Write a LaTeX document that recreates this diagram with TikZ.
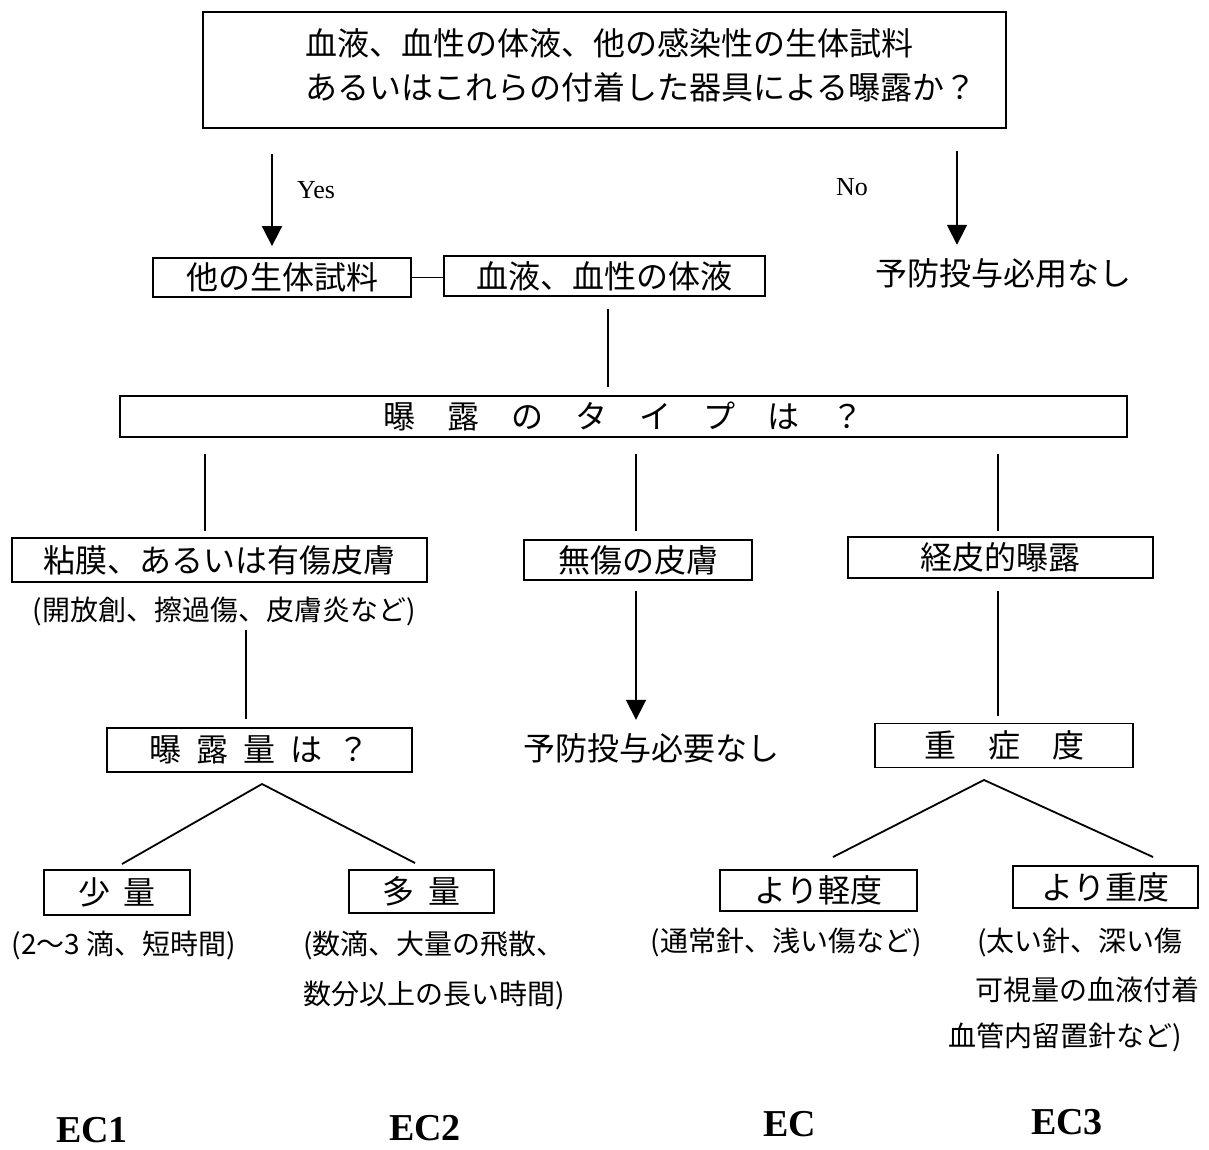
\documentclass[tikz,border=0pt]{standalone}
\usepackage{fontspec}
\usetikzlibrary{arrows.meta}
\setmainfont{Liberation Serif}
\newfontfamily\jp{Noto Sans CJK JP}
\tikzset{
  bx/.style={draw, line width=1.8pt, inner sep=0pt, font=\jp\fontsize{32}{32}\selectfont},
  jtext/.style={inner sep=0pt, minimum height=32pt, font=\jp\fontsize{32}{44}\selectfont},
  captxt/.style={inner sep=0pt, minimum height=30pt, font=\jp\fontsize{28}{28}\selectfont},
  lat/.style={inner sep=0pt, font=\fontsize{26}{26}\selectfont},
  ec/.style={inner sep=0pt, font=\bfseries\fontsize{38}{38}\selectfont},
  ln/.style={line width=1.8pt},
  arr/.style={line width=1.8pt, -{Triangle[width=20pt,length=20pt]}}
}
\begin{document}
\begin{tikzpicture}[x=1pt,y=-1pt]
\useasboundingbox[fill=white] (0,0) rectangle (1209,1150);

% boxes
\node[bx, minimum width=803pt, minimum height=116pt] (top) at (604.5,70) {};
\node[jtext, anchor=west, align=left] (toptext) at (305,65)
  {血液、血性の体液、他の感染性の生体試料\\あるいはこれらの付着した器具による曝露か？};
\node[bx, minimum width=258pt, minimum height=39pt] (oth) at (282,277.5) {他の生体試料};
\node[bx, minimum width=321pt, minimum height=40pt] (blood) at (604.5,276) {血液、血性の体液};
\node[jtext] (noneed1) at (1003,273) {予防投与必用なし};
\node[lat] (yes) at (316,190) {Yes};
\node[lat] (no) at (852,187) {No};

\node[bx, minimum width=1007pt, minimum height=41pt] (type) at (623.5,416.5)
  {曝　露　の　タ　イ　プ　は　？};

\node[bx, minimum width=415pt, minimum height=44pt] (muco) at (219.5,560) {粘膜、あるいは有傷皮膚};
\node[captxt] (mucocap) at (224,611) {(開放創、擦過傷、皮膚炎など)};
\node[bx, minimum width=228pt, minimum height=40pt] (intact) at (638,560) {無傷の皮膚};
\node[bx, minimum width=305pt, minimum height=41pt] (perc) at (1000.5,557.5) {経皮的曝露};

\node[bx, minimum width=305pt, minimum height=44pt] (amount) at (259.5,750)
  {曝\hspace{15pt}露\hspace{15pt}量\hspace{15pt}は\hspace{15pt}？};
\node[jtext] (noneed2) at (651,748) {予防投与必要なし};
\node[bx, minimum width=258pt, minimum height=44pt] (sev) at (1004,745.5) {重　症　度};

\node[bx, minimum width=146pt, minimum height=45pt] (small) at (117,892.5) {少\hspace{14pt}量};
\node[bx, minimum width=145pt, minimum height=43pt] (large) at (421.5,891.5) {多\hspace{14pt}量};
\node[bx, minimum width=197pt, minimum height=41pt] (mild) at (818.5,890.5) {より軽度};
\node[bx, minimum width=185pt, minimum height=42pt] (severe) at (1105.5,887) {より重度};

% captions
\node[captxt] (smallcap) at (124,945) {(2～3 滴、短時間)};
\node[captxt, anchor=west] (largecap1) at (303,945) {(数滴、大量の飛散、};
\node[captxt, anchor=west] (largecap2) at (303,995) {数分以上の長い時間)};
\node[captxt] (mildcap) at (786,942) {(通常針、浅い傷など)};
\node[captxt, anchor=west] (sevcap1) at (977,942) {(太い針、深い傷};
\node[captxt, anchor=west] (sevcap2) at (975,990) {可視量の血液付着};
\node[captxt, anchor=west] (sevcap3) at (948,1037) {血管内留置針など)};

% EC labels
\node[ec] (ec1) at (92,1130) {EC1};
\node[ec] (ec2) at (425,1128) {EC2};
\node[ec] (ec0) at (790,1124) {EC};
\node[ec] (ec3) at (1067,1122) {EC3};

% x positions of connectors
\coordinate (cYes) at (272,0);
\coordinate (cNo) at (957,0);
\coordinate (cBl) at (608,0);
\coordinate (cL) at (205,0);
\coordinate (cM) at (636,0);
\coordinate (cR) at (998,0);
\coordinate (cA) at (246,0);
\coordinate (aApex) at (262,784);
\coordinate (aLeft) at (122,864);
\coordinate (aRight) at (415,863);
\coordinate (sApex) at (984,780);
\coordinate (sLeft) at (833,857);
\coordinate (sRight) at (1153,857);

% connectors
\draw[arr, shorten <=25pt, shorten >=11pt] (top.south -| cYes) -- (oth.north -| cYes);
\draw[arr, shorten <=22pt, shorten >=12pt] (top.south -| cNo) -- (noneed1.north -| cNo);
\draw[ln] (oth.east) -- (oth.east -| blood.west);
\draw[ln, shorten <=12pt, shorten >=8pt] (blood.south -| cBl) -- (type.north -| cBl);
\draw[ln, shorten <=16pt, shorten >=6pt] (type.south -| cL) -- (muco.north -| cL);
\draw[ln, shorten <=16pt, shorten >=8pt] (type.south -| cM) -- (intact.north -| cM);
\draw[ln, shorten <=16pt, shorten >=5pt] (type.south -| cR) -- (perc.north -| cR);
\draw[ln, shorten <=4pt, shorten >=8pt] (mucocap.south -| cA) -- (amount.north -| cA);
\draw[arr, shorten <=10pt, shorten >=12pt] (intact.south -| cM) -- (noneed2.north -| cM);
\draw[ln, shorten <=12pt, shorten >=7pt] (perc.south -| cR) -- (sev.north -| cR);
\draw[ln] (aLeft) -- (aApex) -- (aRight);
\draw[ln] (sLeft) -- (sApex) -- (sRight);
\end{tikzpicture}
\end{document}
